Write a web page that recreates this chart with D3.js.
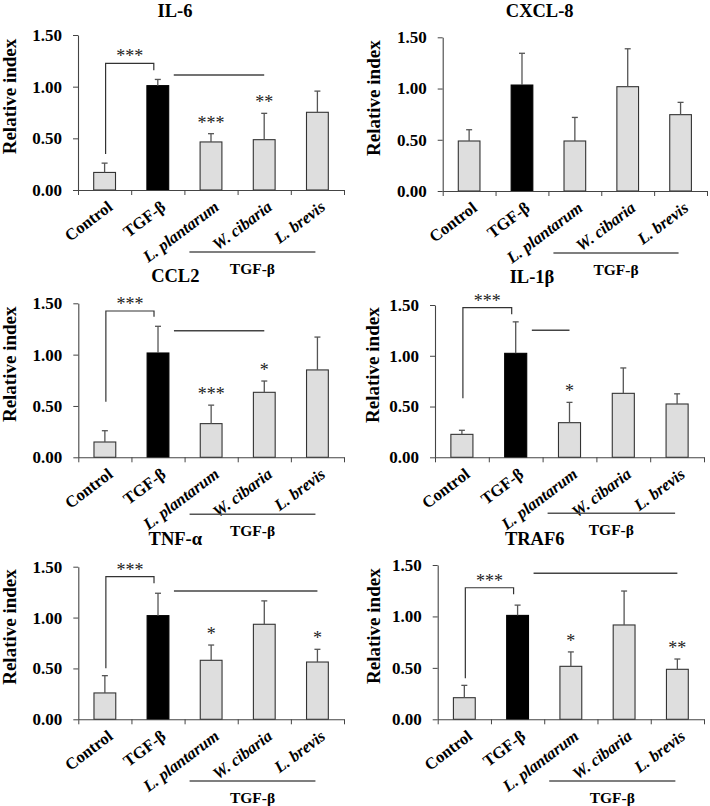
<!DOCTYPE html>
<html>
<head>
<meta charset="utf-8">
<script src="https://cdn.jsdelivr.net/npm/d3@7"></script>
<style>
  html, body { margin: 0; padding: 0; background: #fff; }
  svg { display: block; }
</style>
</head>
<body>
<svg id="chart" width="710" height="806"></svg>
<script>
// ---------------- data ----------------
const categories = ["Control", "TGF-β", "L. plantarum", "W. cibaria", "L. brevis"];
const yTicks = [0, 0.5, 1.0, 1.5];
const groupLabel = "TGF-β";
const yLabel = "Relative index";

const genes = ["IL-6", "CXCL-8", "CCL2", "IL-1β", "TNF-α", "TRAF6"];

const il6Mean   = [0.17, 1.01, 0.465, 0.487, 0.752];
const il6Sd     = [0.09, 0.06, 0.08, 0.255, 0.205];
const cxcl8Mean = [0.488, 1.034, 0.488, 1.018, 0.745];
const cxcl8Sd   = [0.11, 0.31, 0.23, 0.37, 0.12];
const ccl2Mean  = [0.149, 1.016, 0.328, 0.633, 0.851];
const ccl2Sd    = [0.11, 0.26, 0.18, 0.11, 0.32];
const il1bMean  = [0.226, 1.024, 0.341, 0.63, 0.525];
const il1bSd    = [0.04, 0.31, 0.20, 0.25, 0.10];
const tnfMean   = [0.259, 1.019, 0.58, 0.934, 0.563];
const tnfSd     = [0.17, 0.22, 0.15, 0.23, 0.125];
const traf6Mean = [0.21, 1.01, 0.515, 0.917, 0.486];
const traf6Sd   = [0.12, 0.10, 0.14, 0.33, 0.10];

// significance stars above each bar (vs TGF-β)
const il6Stars   = ["", "", "***", "**", ""];
const cxcl8Stars = ["", "", "", "", ""];
const ccl2Stars  = ["", "", "***", "*", ""];
const il1bStars  = ["", "", "*", "", ""];
const tnfStars   = ["", "", "*", "", "*"];
const traf6Stars = ["", "", "*", "", "**"];

// Control vs TGF-β bracket levels [left foot, top, right foot] (data units)
const il6Bracket   = [0.348, 1.226, 1.16];
const ccl2Bracket  = [0.541, 1.425, 1.369];
const il1bBracket  = [0.581, 1.474, 1.409];
const tnfBracket   = [0.501, 1.403, 1.337];
const traf6Bracket = [0.398, 1.279, 1.215];
const bracketStars = "***";

// comparison line: level (data units) and last category index covered
const il6Line   = [1.113, 3];
const ccl2Line  = [1.233, 3];
const il1bLine  = [1.251, 2];
const tnfLine   = [1.262, 4];
const traf6Line = [1.419, 4];

const panelData = [
  { gene: genes[0], mean: il6Mean,   sd: il6Sd,   stars: il6Stars,   bracket: il6Bracket,   line: il6Line },
  { gene: genes[1], mean: cxcl8Mean, sd: cxcl8Sd, stars: cxcl8Stars, bracket: null,         line: null },
  { gene: genes[2], mean: ccl2Mean,  sd: ccl2Sd,  stars: ccl2Stars,  bracket: ccl2Bracket,  line: ccl2Line },
  { gene: genes[3], mean: il1bMean,  sd: il1bSd,  stars: il1bStars,  bracket: il1bBracket,  line: il1bLine },
  { gene: genes[4], mean: tnfMean,   sd: tnfSd,   stars: tnfStars,   bracket: tnfBracket,   line: tnfLine },
  { gene: genes[5], mean: traf6Mean, sd: traf6Sd, stars: traf6Stars, bracket: traf6Bracket, line: traf6Line }
];

// ---------------- layout ----------------
const layouts = [
  { left: 78,    right: 344, top: 35,    bottom: 190,   titleY: 16.5, groupY: 252,   ylabX: 9 },
  { left: 442.7, right: 707, top: 37.3,  bottom: 191,   titleY: 17,   groupY: 253,   ylabX: 373 },
  { left: 78.3,  right: 344, top: 303.3, bottom: 457.3, titleY: 282,  groupY: 514.3, ylabX: 9 },
  { left: 435,   right: 704, top: 305,   bottom: 457.3, titleY: 283,  groupY: 513.3, ylabX: 372 },
  { left: 78.3,  right: 344, top: 566.7, bottom: 719.3, titleY: 545,  groupY: 781,   ylabX: 9 },
  { left: 437.7, right: 704, top: 565,   bottom: 719.3, titleY: 545,  groupY: 781,   ylabX: 373 }
];

const FONT = "'Liberation Serif', 'Times New Roman', serif";
const svg = d3.select("#chart");
svg.append("rect").attr("width", 710).attr("height", 806).attr("fill", "#fff");

panelData.forEach((p, i) => {
  const L = layouts[i];
  const g = svg.append("g");
  const x = d3.scaleBand().domain(categories).range([L.left, L.right]).padding(0);
  const xb = d3.scaleLinear().domain([0, categories.length]).range([L.left, L.right]);
  const y = d3.scaleLinear().domain([0, 1.5]).range([L.bottom, L.top]);
  const bw = x.bandwidth();
  const cx = c => x(c) + bw / 2;

  // title
  g.append("text")
    .attr("x", L.left + 97).attr("y", L.titleY)
    .attr("text-anchor", "middle")
    .attr("font-family", FONT).attr("font-weight", "bold").attr("font-size", 18.5)
    .text(p.gene);

  // y axis
  const ya = g.append("g").attr("transform", `translate(${L.left},0)`)
    .call(d3.axisLeft(y).tickValues(yTicks).tickFormat(d3.format(".2f")).tickSize(5).tickSizeOuter(0).tickPadding(11));
  ya.select(".domain").attr("stroke", "#444").attr("stroke-width", 1.1);
  ya.selectAll(".tick line").attr("stroke", "#444");
  ya.selectAll(".tick text").attr("font-family", FONT).attr("font-weight", "bold")
    .attr("font-size", 17).attr("fill", "#000");

  // y label
  g.append("text")
    .attr("transform", `translate(${L.ylabX + 6.5},${(L.top + L.bottom) / 2 - 16}) rotate(-90)`)
    .attr("text-anchor", "middle")
    .attr("font-family", FONT).attr("font-weight", "bold").attr("font-size", 19)
    .text(yLabel);

  // bars
  const bars = categories.map((c, k) => ({ c, k, v: p.mean[k], sd: p.sd[k], s: p.stars[k] }));
  const barW = bw * 0.41;
  g.selectAll("rect.bar").data(bars).enter().append("rect")
    .attr("class", "bar")
    .attr("x", d => cx(d.c) - barW / 2)
    .attr("y", d => y(d.v))
    .attr("width", barW)
    .attr("height", d => y(0) - y(d.v))
    .attr("fill", d => d.k === 1 ? "#000" : "#dedede")
    .attr("stroke", d => d.k === 1 ? "#000" : "#333")
    .attr("stroke-width", 1.1);

  // error bars (upper only)
  g.selectAll("line.err").data(bars).enter().append("line")
    .attr("x1", d => cx(d.c)).attr("x2", d => cx(d.c))
    .attr("y1", d => y(d.v)).attr("y2", d => y(d.v + d.sd))
    .attr("stroke", "#555").attr("stroke-width", 1.3);
  g.selectAll("line.cap").data(bars).enter().append("line")
    .attr("x1", d => cx(d.c) - 3).attr("x2", d => cx(d.c) + 3)
    .attr("y1", d => y(d.v + d.sd)).attr("y2", d => y(d.v + d.sd))
    .attr("stroke", "#555").attr("stroke-width", 1.3);

  // stars above bars
  g.selectAll("text.star").data(bars.filter(d => d.s)).enter().append("text")
    .attr("x", d => cx(d.c)).attr("y", d => y(d.v + d.sd) - 5)
    .attr("text-anchor", "middle")
    .attr("font-family", FONT).attr("font-size", 18).attr("fill", "#222")
    .text(d => d.s);

  // x axis (ticks at band boundaries)
  const xa = g.append("g").attr("transform", `translate(0,${L.bottom})`)
    .call(d3.axisBottom(xb).tickValues(d3.range(categories.length + 1)).tickFormat("").tickSize(5).tickSizeOuter(0));
  xa.select(".domain").attr("stroke", "#444").attr("stroke-width", 1.1);
  xa.selectAll(".tick line").attr("stroke", "#444");

  // category labels
  g.selectAll("text.cat").data(categories).enter().append("text")
    .attr("transform", c => `translate(${cx(c) + 9},${L.bottom + 19}) rotate(-37)`)
    .attr("text-anchor", "end")
    .attr("font-family", FONT).attr("font-weight", "bold").attr("font-size", 16.5)
    .attr("font-style", (c, k) => k >= 2 ? "italic" : "normal")
    .text(c => c);

  // group line + label (TGF-β treated groups)
  const gx1 = x(categories[2]) + 5;
  const gx2 = cx(categories[4]) - 2;
  g.append("line").attr("x1", gx1).attr("x2", gx2).attr("y1", L.groupY).attr("y2", L.groupY)
    .attr("stroke", "#555").attr("stroke-width", 1.5);
  g.append("text")
    .attr("x", (gx1 + gx2) / 2).attr("y", L.groupY + 22)
    .attr("text-anchor", "middle")
    .attr("font-family", FONT).attr("font-weight", "bold").attr("font-size", 15.5)
    .text(groupLabel);

  // bracket Control vs TGF-β
  if (p.bracket) {
    const bx1 = cx(categories[0]) + 1;
    const bx2 = cx(categories[1]) - 4;
    const [lf, tp, rf] = p.bracket;
    g.append("path")
      .attr("d", `M${bx1},${y(lf)}V${y(tp)}H${bx2}V${y(rf)}`)
      .attr("fill", "none").attr("stroke", "#333").attr("stroke-width", 1.2);
    g.append("text")
      .attr("x", (bx1 + bx2) / 2).attr("y", y(tp) - 1)
      .attr("text-anchor", "middle")
      .attr("font-family", FONT).attr("font-size", 18).attr("fill", "#222")
      .text(bracketStars);
  }

  // comparison line from TGF-β over treated groups
  if (p.line) {
    const [lv, last] = p.line;
    const lx1 = cx(categories[1]) + bw * 0.3;
    const lx2 = cx(categories[last]);
    g.append("line").attr("x1", lx1).attr("x2", lx2).attr("y1", y(lv)).attr("y2", y(lv))
      .attr("stroke", "#444").attr("stroke-width", 1.5);
  }
});
</script>
</body>
</html>
